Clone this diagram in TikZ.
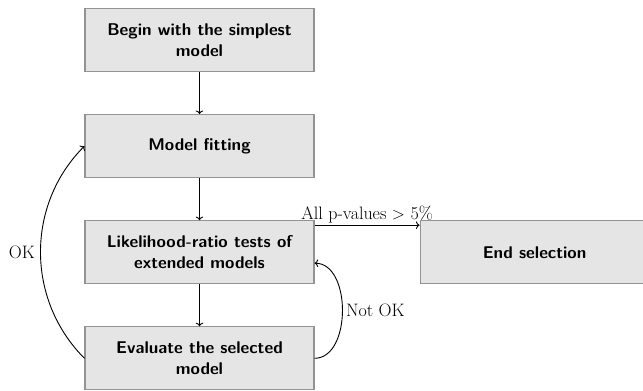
\documentclass[tikz,border=0pt]{standalone}
\usepackage{amsmath, amssymb}
\usepackage{tikz}
\usetikzlibrary{arrows.meta, positioning}

\begin{document}
\begin{tikzpicture}[x=1pt, y=1pt,
            node distance=42pt and 105pt,
            box/.style={draw=gray!85, line width=1.1pt, fill=gray!20,
                    minimum width=229pt, minimum height=63pt,
                    align=center, font=\sffamily\bfseries\fontsize{17}{21}\selectfont},
            lbl/.style={font=\fontsize{18}{21}\selectfont},
            arr/.style={->, line width=0.9pt}]
        \useasboundingbox (0,0) rectangle (643,-391);
        \node[box] (begin) at (199.5,-40) {Begin with the simplest\\model};
        \node[box, below=of begin] (fit) {Model fitting};
        \node[box, below=of fit] (lrt) {Likelihood-ratio tests of\\extended models};
        \node[box, below=of lrt] (eval) {Evaluate the selected\\model};
        \node[box, right=of lrt] (endsel) {End selection};
        \draw[arr] (begin) -- (fit);
        \draw[arr] (fit) -- (lrt);
        \draw[arr] (lrt) -- (eval);
        \draw[arr] ([yshift=-5pt]lrt.north east) -- ([yshift=-5pt]endsel.north west)
            node[lbl, midway, above, inner sep=2pt] {All p-values $>$ 5\%};
        \draw[arr] (eval.west) to[bend left=45, looseness=1]
            node[lbl, midway, left, xshift=-2pt] {OK} (fit.west);
        \draw[arr] (eval.east) to[out=0, in=0, looseness=1]
            node[lbl, midway, right] {Not OK} ([yshift=-11pt]lrt.east);
    \end{tikzpicture}
\end{document}
